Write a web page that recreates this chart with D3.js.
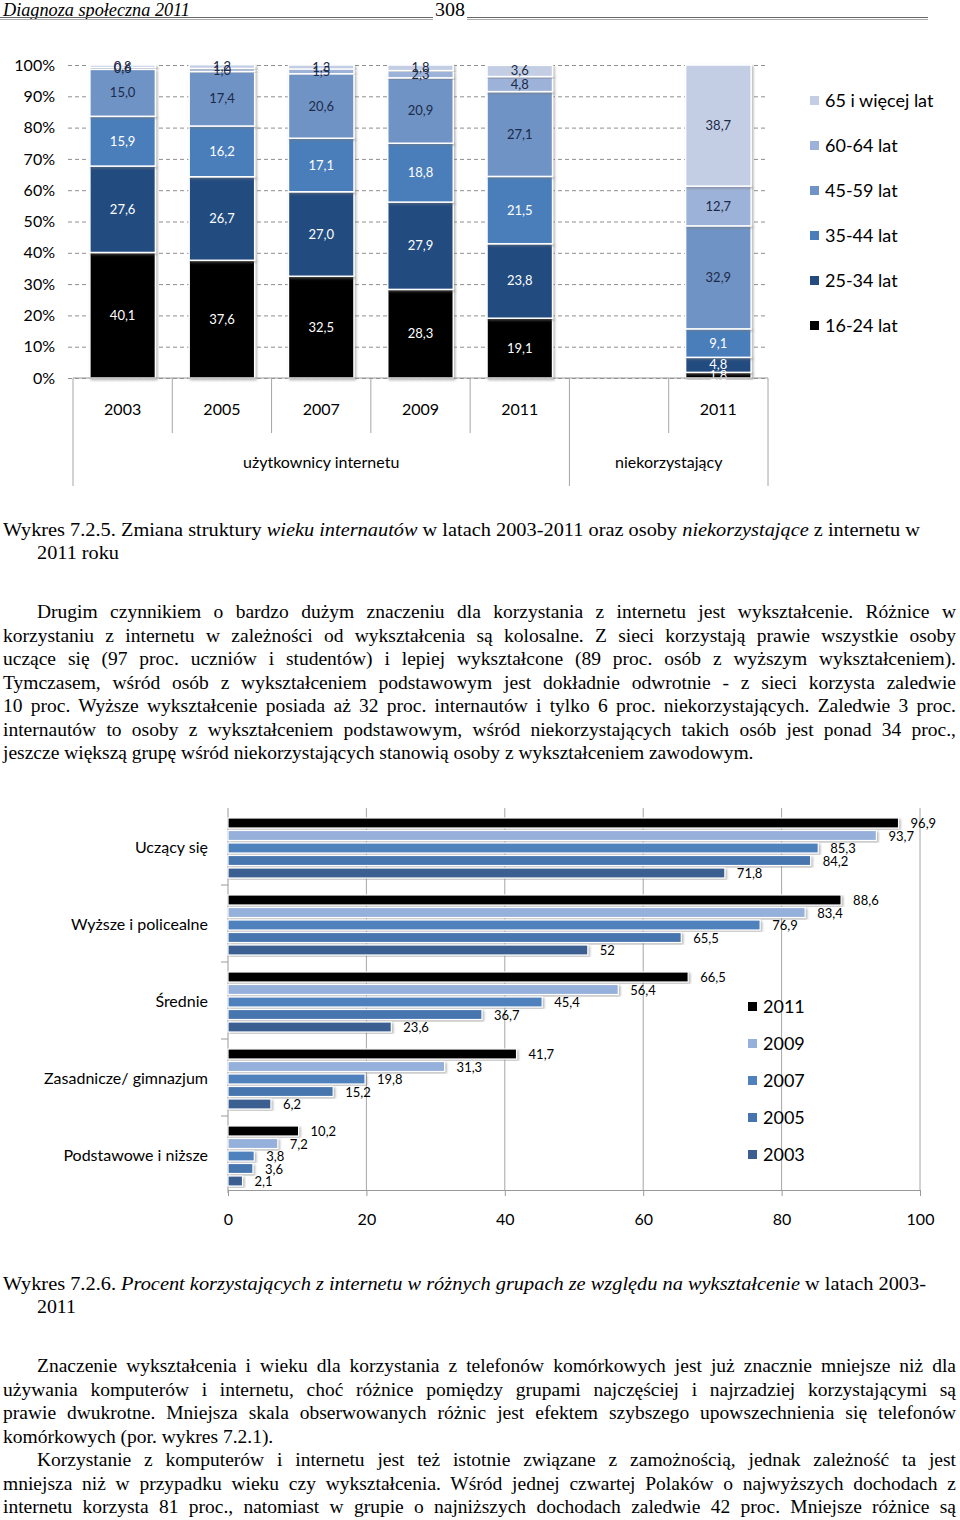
<!DOCTYPE html>
<html lang="pl">
<head>
  <meta charset="UTF-8">
  <title>Diagnoza społeczna 2011 – str. 308</title>
  <script src="https://d3js.org/d3.v7.min.js"></script>
  <style>
    body {
      margin: 0;
      padding: 0;
      background: #fff;
    }
    #page {
      position: relative;
      width: 960px;
      height: 1520px;
      overflow: hidden;
    }
    #chart {
      position: absolute;
      left: 0;
      top: 0;
    }
    .sans {
      font-family: Lato, "Open Sans", sans-serif;
    }
    .serif {
      font-family: "Liberation Serif", "Times New Roman", serif;
    }
    /* justified body text, one div per printed line */
    .para {
      position: absolute;
      left: 3px;
      width: 953px;
      font-family: "Liberation Serif", "Times New Roman", serif;
      font-size: 19.5px;
      line-height: 23.5px;
      color: #000;
    }
    .para div {
      text-align: justify;
      text-align-last: justify;
    }
    .para div.ind { text-indent: 34px; }
    .para div.last { text-align-last: left; }
  </style>
</head>
<body>
  <div id="page">
    <svg id="chart"></svg>

    <div class="para" style="top:600px">
      <div class="ind">Drugim czynnikiem o bardzo dużym znaczeniu dla korzystania z internetu jest wykształcenie. Różnice w</div>
      <div>korzystaniu z internetu w zależności od wykształcenia są kolosalne. Z sieci korzystają prawie wszystkie osoby</div>
      <div>uczące się (97 proc. uczniów i studentów) i lepiej wykształcone (89 proc. osób z wyższym wykształceniem).</div>
      <div>Tymczasem, wśród osób z wykształceniem podstawowym jest dokładnie odwrotnie - z sieci korzysta zaledwie</div>
      <div>10 proc. Wyższe wykształcenie posiada aż 32 proc. internautów i tylko 6 proc. niekorzystających. Zaledwie 3 proc.</div>
      <div>internautów to osoby z wykształceniem podstawowym, wśród niekorzystających takich osób jest ponad 34 proc.,</div>
      <div class="last">jeszcze większą grupę wśród niekorzystających stanowią osoby z wykształceniem zawodowym.</div>
    </div>

    <div class="para" style="top:1354px">
      <div class="ind">Znaczenie wykształcenia i wieku dla korzystania z telefonów komórkowych jest już znacznie mniejsze niż dla</div>
      <div>używania komputerów i internetu, choć różnice pomiędzy grupami najczęściej i najrzadziej korzystającymi są</div>
      <div>prawie dwukrotne. Mniejsza skala obserwowanych różnic jest efektem szybszego upowszechnienia się telefonów</div>
      <div class="last">komórkowych (por. wykres 7.2.1).</div>
      <div class="ind">Korzystanie z komputerów i internetu jest też istotnie związane z zamożnością, jednak zależność ta jest</div>
      <div>mniejsza niż w przypadku wieku czy wykształcenia. Wśród jednej czwartej Polaków o najwyższych dochodach z</div>
      <div>internetu korzysta 81 proc., natomiast w grupie o najniższych dochodach zaledwie 42 proc. Mniejsze różnice są</div>
    </div>
  </div>

  <script>
    // ---- chart 7.2.5: age structure (stacked columns) ----
    const topKeys = ["u2003", "u2005", "u2007", "u2009", "u2011", "gap", "n2011"];
    const topTickLabels = ["2003", "2005", "2007", "2009", "2011", "", "2011"];
    const groupLabels = ["użytkownicy internetu", "niekorzystający"];
    const groupSpans = [5, 2];

    const ageGroups = ["16-24 lat", "25-34 lat", "35-44 lat", "45-59 lat", "60-64 lat", "65 i więcej lat"];
    const age1624 = [40.1, 37.6, 32.5, 28.3, 19.1, 0, 1.8];
    const age2534 = [27.6, 26.7, 27.0, 27.9, 23.8, 0, 4.8];
    const age3544 = [15.9, 16.2, 17.1, 18.8, 21.5, 0, 9.1];
    const age4559 = [15.0, 17.4, 20.6, 20.9, 27.1, 0, 32.9];
    const age6064 = [0.6, 1.0, 1.5, 2.3, 4.8, 0, 12.7];
    const age65 = [0.8, 1.2, 1.3, 1.8, 3.6, 0, 38.7];
    const ageColors = ["#000000", "#234b80", "#4a7ebb", "#7093c6", "#9db2d8", "#c3cee4"];
    const ageLabelColors = ["#fff", "#fff", "#fff", "#1b2a47", "#1b2a47", "#1b2a47"];
    const pctTicks = [0, 10, 20, 30, 40, 50, 60, 70, 80, 90, 100];

    // ---- chart 7.2.6: internet use by education (grouped bars) ----
    const eduCats = ["Uczący się", "Wyższe i policealne", "Średnie", "Zasadnicze/ gimnazjum", "Podstawowe i niższe"];
    const years = ["2011", "2009", "2007", "2005", "2003"];
    const v2011 = [96.9, 88.6, 66.5, 41.7, 10.2];
    const v2009 = [93.7, 83.4, 56.4, 31.3, 7.2];
    const v2007 = [85.3, 76.9, 45.4, 19.8, 3.8];
    const v2005 = [84.2, 65.5, 36.7, 15.2, 3.6];
    const v2003 = [71.8, 52, 23.6, 6.2, 2.1];
    const yearColors = ["#000000", "#95b0da", "#4f81bd", "#4774ae", "#3b5f91"];
    const eduTicks = [0, 20, 40, 60, 80, 100];

    const svg = d3.select("#chart").attr("width", 960).attr("height", 1520);

    const defs = svg.append("defs");
    const shadow = defs.append("filter").attr("id", "shadow")
      .attr("x", "-10%").attr("y", "-10%").attr("width", "130%").attr("height", "130%");
    shadow.append("feDropShadow")
      .attr("dx", 1.5).attr("dy", 1.5).attr("stdDeviation", 1)
      .attr("flood-color", "#777").attr("flood-opacity", 0.55);

    // ---- page header ----
    const header = svg.append("g").attr("class", "serif");
    header.append("text")
      .attr("x", 3).attr("y", 16)
      .attr("font-size", 18).attr("font-style", "italic")
      .attr("textLength", 187).attr("lengthAdjust", "spacingAndGlyphs")
      .text("Diagnoza społeczna 2011");
    header.append("text")
      .attr("x", 435).attr("y", 16)
      .attr("font-size", 19)
      .attr("textLength", 30).attr("lengthAdjust", "spacingAndGlyphs")
      .text("308");
    [[0, 433], [467, 928]].forEach(([a, b]) => {
      header.append("line").attr("x1", a).attr("x2", b).attr("y1", 17.5).attr("y2", 17.5)
        .attr("stroke", "#666").attr("stroke-width", 1);
      header.append("line").attr("x1", a).attr("x2", b).attr("y1", 19.5).attr("y2", 19.5)
        .attr("stroke", "#aaa").attr("stroke-width", 1);
    });

    // ================= chart 7.2.5 =================
    const gTop = svg.append("g").attr("class", "sans");
    const xTop = d3.scaleBand().domain(topKeys).range([73, 768])
      .paddingInner(0.34).paddingOuter(0.17);
    const yTop = d3.scaleLinear().domain([0, 100]).range([378, 65]);
    const step = xTop.step();
    const left0 = xTop.range()[0];

    // dashed gridlines + percentage labels
    const yAxisTop = gTop.append("g")
      .attr("transform", "translate(68,0)")
      .call(d3.axisLeft(yTop).tickValues(pctTicks).tickSize(-699).tickPadding(13)
        .tickFormat(d => d + "%"));
    yAxisTop.select(".domain").remove();
    yAxisTop.selectAll(".tick line")
      .attr("stroke", "#8f8f8f").attr("stroke-dasharray", "4,3");
    yAxisTop.selectAll(".tick text")
      .attr("font-family", "Lato, 'Open Sans', sans-serif")
      .attr("font-size", 16).attr("fill", "#000");

    // stacked columns
    const stackRows = topKeys.map((k, i) => ({
      key: k,
      [ageGroups[0]]: age1624[i], [ageGroups[1]]: age2534[i], [ageGroups[2]]: age3544[i],
      [ageGroups[3]]: age4559[i], [ageGroups[4]]: age6064[i], [ageGroups[5]]: age65[i]
    }));
    const series = d3.stack().keys(ageGroups)(stackRows);
    const fmt1 = d3.format(".1f");

    series.forEach((s, si) => {
      gTop.append("g").selectAll("rect")
        .data(s.filter(d => d.data.key !== "gap"))
        .join("rect")
        .attr("x", d => xTop(d.data.key))
        .attr("width", xTop.bandwidth())
        .attr("y", d => yTop(d[1]))
        .attr("height", d => yTop(d[0]) - yTop(d[1]))
        .attr("fill", ageColors[si])
        .attr("stroke", "#fff").attr("stroke-width", 1.5)
        .attr("filter", "url(#shadow)");
    });
    series.forEach((s, si) => {
      gTop.append("g").selectAll("text")
        .data(s.filter(d => d.data.key !== "gap"))
        .join("text")
        .attr("x", d => xTop(d.data.key) + xTop.bandwidth() / 2)
        .attr("y", d => (yTop(d[0]) + yTop(d[1])) / 2 + 4.5)
        .attr("text-anchor", "middle")
        .attr("font-size", 13)
        .attr("fill", ageLabelColors[si])
        .text(d => fmt1(d[1] - d[0]).replace(".", ","));
    });

    // category axis with two-level grouping
    gTop.append("line")
      .attr("x1", left0).attr("x2", left0 + step * topKeys.length)
      .attr("y1", yTop(0)).attr("y2", yTop(0))
      .attr("stroke", "#999");
    const groupEdges = [0];
    groupSpans.forEach(n => groupEdges.push(groupEdges[groupEdges.length - 1] + n));
    for (let i = 0; i <= topKeys.length; i++) {
      const x = left0 + i * step;
      const long = groupEdges.includes(i);
      gTop.append("line")
        .attr("x1", x).attr("x2", x)
        .attr("y1", yTop(0)).attr("y2", long ? 486 : 433)
        .attr("stroke", "#a6a6a6");
    }
    gTop.append("g").selectAll("text")
      .data(topKeys)
      .join("text")
      .attr("x", d => xTop(d) + xTop.bandwidth() / 2)
      .attr("y", 415)
      .attr("text-anchor", "middle")
      .attr("font-size", 16)
      .text((d, i) => topTickLabels[i]);
    gTop.append("g").selectAll("text")
      .data(groupLabels)
      .join("text")
      .attr("x", (d, i) => left0 + step * (groupEdges[i] + groupEdges[i + 1]) / 2)
      .attr("y", 468)
      .attr("text-anchor", "middle")
      .attr("font-size", 16)
      .text(d => d);

    // legend
    const legTop = gTop.append("g");
    ageGroups.slice().reverse().forEach((name, i) => {
      const cy = 101 + i * 45;
      const ci = ageGroups.length - 1 - i;
      legTop.append("rect").attr("x", 810).attr("y", cy - 5).attr("width", 9).attr("height", 9)
        .attr("fill", ageColors[ci]);
      legTop.append("text").attr("x", 825).attr("y", cy + 6)
        .attr("font-size", 18).text(name);
    });

    // caption 7.2.5
    const cap1 = svg.append("text").attr("class", "serif")
      .attr("x", 3).attr("y", 536).attr("font-size", 19)
      .attr("textLength", 917).attr("lengthAdjust", "spacingAndGlyphs");
    cap1.append("tspan").text("Wykres 7.2.5. Zmiana struktury ");
    cap1.append("tspan").attr("font-style", "italic").text("wieku internautów");
    cap1.append("tspan").text(" w latach 2003-2011 oraz osoby ");
    cap1.append("tspan").attr("font-style", "italic").text("niekorzystające");
    cap1.append("tspan").text(" z internetu w");
    svg.append("text").attr("class", "serif")
      .attr("x", 37).attr("y", 559).attr("font-size", 19)
      .attr("textLength", 82).attr("lengthAdjust", "spacingAndGlyphs")
      .text("2011 roku");

    // ================= chart 7.2.6 =================
    const gBot = svg.append("g").attr("class", "sans");
    const xBot = d3.scaleLinear().domain([0, 100]).range([228, 920]);
    const yBot = d3.scaleBand().domain(eduCats).range([808, 1193]);
    const yIn = d3.scaleBand().domain(years).range([10, 70]).paddingInner(0.2);
    const yearValues = [v2011, v2009, v2007, v2005, v2003];

    // vertical gridlines
    gBot.append("g").selectAll("line")
      .data(eduTicks.filter(t => t > 0))
      .join("line")
      .attr("x1", d => xBot(d)).attr("x2", d => xBot(d))
      .attr("y1", 808).attr("y2", 1190)
      .attr("stroke", "#a6a6a6");

    // bottom value axis
    const xAxisBot = gBot.append("g")
      .attr("transform", "translate(0,1190)")
      .call(d3.axisBottom(xBot).tickValues(eduTicks).tickSize(6).tickPadding(18));
    xAxisBot.select(".domain").attr("stroke", "#999");
    xAxisBot.selectAll(".tick line").attr("stroke", "#999");
    xAxisBot.selectAll(".tick text")
      .attr("font-family", "Lato, 'Open Sans', sans-serif")
      .attr("font-size", 16).attr("fill", "#000");

    // left category axis
    gBot.append("line").attr("x1", 228).attr("x2", 228).attr("y1", 808).attr("y2", 1193)
      .attr("stroke", "#999");
    gBot.append("g").selectAll("line")
      .data(eduCats.slice(1))
      .join("line")
      .attr("x1", 221).attr("x2", 228)
      .attr("y1", d => yBot(d)).attr("y2", d => yBot(d))
      .attr("stroke", "#999");
    gBot.append("g").selectAll("text")
      .data(eduCats)
      .join("text")
      .attr("x", 208)
      .attr("y", d => yBot(d) + yBot.bandwidth() / 2 + 6)
      .attr("text-anchor", "end")
      .attr("font-size", 16)
      .text(d => d);

    // bars
    years.forEach((yr, yi) => {
      const rows = eduCats.map((c, ci) => ({ cat: c, v: yearValues[yi][ci] }));
      gBot.append("g").selectAll("rect")
        .data(rows)
        .join("rect")
        .attr("x", xBot(0))
        .attr("y", d => yBot(d.cat) + yIn(yr))
        .attr("width", d => xBot(d.v) - xBot(0))
        .attr("height", yIn.bandwidth())
        .attr("fill", yearColors[yi])
        .attr("stroke", "#fff").attr("stroke-width", 1.2)
        .attr("filter", "url(#shadow)");
    });
    years.forEach((yr, yi) => {
      const rows = eduCats.map((c, ci) => ({ cat: c, v: yearValues[yi][ci] }));
      gBot.append("g").selectAll("text")
        .data(rows)
        .join("text")
        .attr("x", d => xBot(d.v) + 12)
        .attr("y", d => yBot(d.cat) + yIn(yr) + yIn.bandwidth() / 2 + 5)
        .attr("font-size", 13)
        .text(d => String(d.v).replace(".", ","));
    });

    // legend
    const legBot = gBot.append("g");
    years.forEach((yr, i) => {
      const cy = 1007 + i * 37;
      legBot.append("rect").attr("x", 748).attr("y", cy - 5).attr("width", 9).attr("height", 9)
        .attr("fill", yearColors[i]);
      legBot.append("text").attr("x", 763).attr("y", cy + 6)
        .attr("font-size", 18).text(yr);
    });

    // caption 7.2.6
    const cap2 = svg.append("text").attr("class", "serif")
      .attr("x", 3).attr("y", 1290).attr("font-size", 19)
      .attr("textLength", 923).attr("lengthAdjust", "spacingAndGlyphs");
    cap2.append("tspan").text("Wykres 7.2.6. ");
    cap2.append("tspan").attr("font-style", "italic")
      .text("Procent korzystających z internetu w różnych grupach ze względu na wykształcenie");
    cap2.append("tspan").text(" w latach 2003-");
    svg.append("text").attr("class", "serif")
      .attr("x", 37).attr("y", 1313).attr("font-size", 19)
      .attr("textLength", 39).attr("lengthAdjust", "spacingAndGlyphs")
      .text("2011");
  </script>
</body>
</html>
